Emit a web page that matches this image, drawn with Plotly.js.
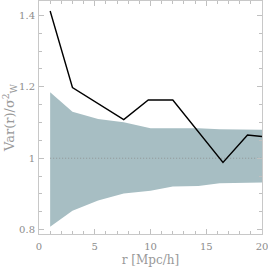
<!DOCTYPE html>
<html><head><meta charset="utf-8">
<script src="https://cdn.plot.ly/plotly-3.0.1.min.js"></script>
<style>body{margin:0;background:#fff}#c{width:268px;height:267px}</style>
</head><body><div id="c"></div>
<script>
const bandX = [1, 3, 5.3, 7.6, 10, 12, 14.3, 16.2, 20];
const bandUpper = [1.185, 1.130, 1.110, 1.101, 1.084, 1.084, 1.084, 1.081, 1.080];
const bandLower = [0.808, 0.853, 0.882, 0.901, 0.909, 0.921, 0.922, 0.930, 0.932];
const lineX = [1, 3, 7.6, 9.8, 12, 16.5, 18.7, 20];
const lineY = [1.412, 1.198, 1.108, 1.163, 1.163, 0.988, 1.065, 1.061];
const refX = [1, 20];
const refLevel = 1;
const xTitle = 'r [Mpc/h]';
const yTitle = 'Var(r)/σ<sup>2</sup><sub>W</sub>';

const bandColor = 'rgb(167,190,195)';
const fontFam = 'DejaVu Serif, serif';
const traces = [
  {x: bandX, y: bandLower, mode: 'lines', line: {width: 0, color: bandColor}, hoverinfo: 'skip'},
  {x: bandX, y: bandUpper, mode: 'lines', fill: 'tonexty', fillcolor: bandColor, line: {width: 0, color: bandColor}, hoverinfo: 'skip'},
  {x: refX, y: refX.map(() => refLevel), mode: 'lines', line: {color: '#8a8a8a', width: 0.8, dash: '1px,2px'}},
  {x: lineX, y: lineY, mode: 'lines', line: {color: '#000', width: 1.4}}
];
const axCommon = {
  showgrid: false, zeroline: false, showline: true, linecolor: '#c8c8c8', linewidth: 1,
  mirror: 'ticks', ticks: 'inside', ticklen: 5, tickcolor: '#c0c0c0', tickwidth: 1,
  ticklabeloverflow: 'allow',
  tickfont: {family: fontFam, size: 10, color: '#8c8c8c'}
};
const layout = {
  width: 268, height: 267, showlegend: false,
  margin: {l: 38.5, r: 5.5, t: 1, b: 33},
  paper_bgcolor: '#fff', plot_bgcolor: '#fff',
  xaxis: Object.assign({}, axCommon, {
    range: [0, 20], dtick: 5, tick0: 0, ticklabelstandoff: 3,
    minor: {dtick: 1, ticks: 'inside', ticklen: 3, tickcolor: '#c0c0c0', showgrid: false},
    title: {text: xTitle, standoff: 4, font: {family: fontFam, size: 12, color: '#999'}}
  }),
  yaxis: Object.assign({}, axCommon, {
    range: [0.788, 1.44], dtick: 0.2, tick0: 0.8, ticklabelstandoff: 1,
    minor: {dtick: 0.05, ticks: 'inside', ticklen: 3, tickcolor: '#c0c0c0', showgrid: false},
    title: {text: yTitle, standoff: 1, font: {family: fontFam, size: 13, color: '#999'}}
  })
};
Plotly.newPlot('c', traces, layout, {staticPlot: true, displayModeBar: false});
</script></body></html>
